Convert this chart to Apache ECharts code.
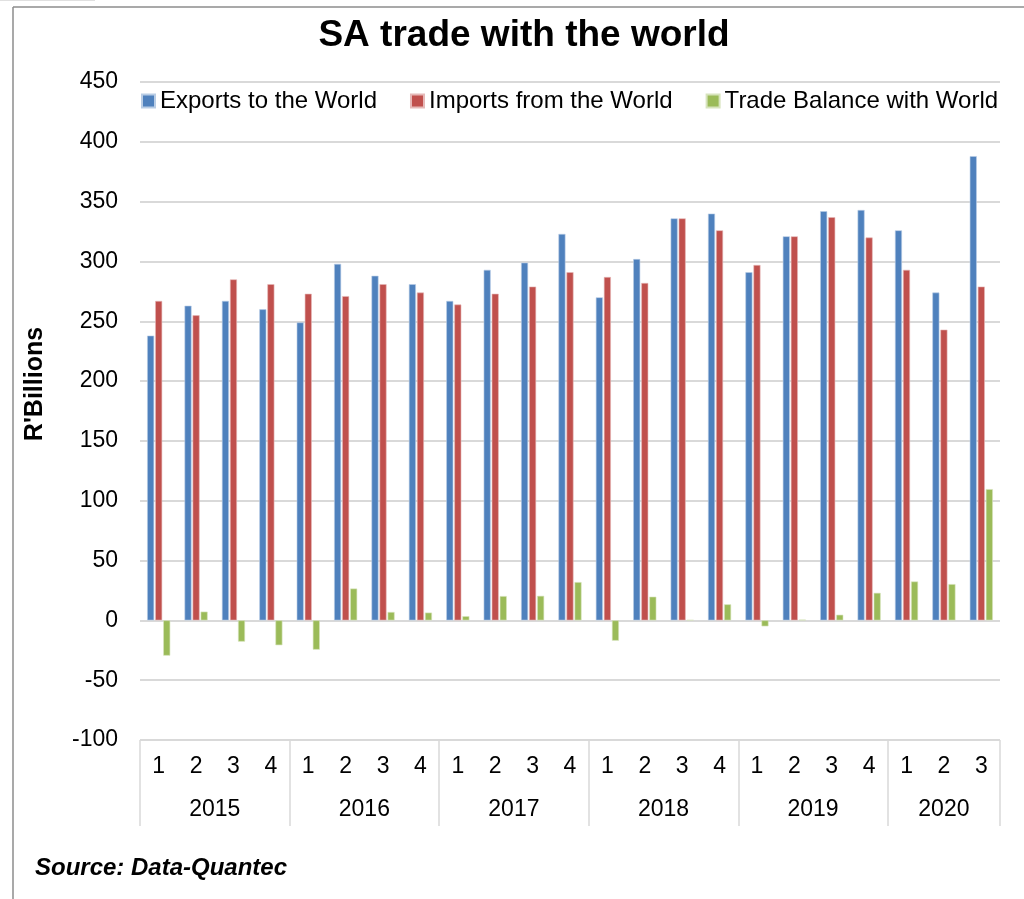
<!DOCTYPE html>
<html>
<head>
<meta charset="utf-8">
<script src="https://cdn.jsdelivr.net/npm/echarts@6/dist/echarts.min.js"></script>
<style>
html,body{margin:0;padding:0;background:#fff;}
#chart{width:1024px;height:899px;}
</style>
</head>
<body>
<div id="chart"></div>
<script>
var quarters = ['1','2','3','4','1','2','3','4','1','2','3','4','1','2','3','4','1','2','3','4','1','2','3'];
var years = ['2015','2016','2017','2018','2019','2020'];
var quartersPerYear = [4,4,4,4,4,3];
var exportsWorld = [238,263,267,260, 249,298,288,281, 267,293,299,323, 270,302,336,340, 291,321,342,343, 326,274,388];
var importsWorld = [267,255,285,281, 273,271,281,274, 264,273,279,291, 287,282,336,326, 297,321,337,320, 293,243,279];
var tradeBalance = [-29.5,7.3,-17.8,-20.8, -24.5,26.6,7,6.5, 3.5,20.3,20.5,32, -17,19.8,0.3,13.4, -5,0.6,4.7,23, 32.5,30.3,109.7];

// year axis: half-quarter slots so that year labels sit in the middle of their block
var yearSlots = [], yearBounds = {}, pos = 0;
for (var i = 0; i < quarters.length * 2 + 1; i++) yearSlots.push('');
yearBounds[0] = true;
for (var j = 0; j < years.length; j++) {
  var mid = pos * 2 + quartersPerYear[j];
  yearSlots[mid] = years[j];
  pos += quartersPerYear[j];
  yearBounds[pos * 2] = true;
}

var chart = echarts.init(document.getElementById('chart'));
var font = 'Liberation Sans, Arial, sans-serif';
chart.setOption({
  animation: false,
  textStyle: { fontFamily: font },
  legend: {
    left: 141,
    top: 89,
    padding: 0,
    itemWidth: 13,
    itemHeight: 13,
    itemGap: 33,
    icon: 'rect',
    textStyle: { fontSize: 24, color: '#000', fontFamily: font },
    data: ['Exports to the World','Imports from the World','Trade Balance with World']
  },
  grid: { left: 140, right: 24, top: 82, bottom: 159 },
  xAxis: [
    {
      type: 'category',
      data: quarters,
      position: 'bottom',
      axisLine: { show: false },
      axisTick: { show: false },
      axisLabel: { interval: 0, fontSize: 23, color: '#000', margin: 15, fontFamily: font }
    },
    {
      type: 'category',
      data: yearSlots,
      boundaryGap: false,
      position: 'bottom',
      axisLine: { show: false },
      axisTick: {
        show: true,
        length: 86,
        inside: false,
        interval: function (idx) { return !!yearBounds[idx]; },
        lineStyle: { color: '#d9d9d9', width: 1.5 }
      },
      axisLabel: {
        interval: function (idx, val) { return val !== ''; },
        fontSize: 23, color: '#000', margin: 58, fontFamily: font
      }
    }
  ],
  yAxis: {
    type: 'value',
    min: -100,
    max: 450,
    interval: 50,
    axisLine: { show: false },
    axisTick: { show: false },
    axisLabel: { fontSize: 23, color: '#000', margin: 22, fontFamily: font },
    splitLine: { lineStyle: { color: '#d9d9d9', width: 2 } }
  },
  series: [
    {
      name: 'Exports to the World', type: 'bar', data: exportsWorld,
      barWidth: 7, barGap: '15%',
      itemStyle: { color: '#4F81BD', borderColor: '#b9cde5', borderWidth: 0.6 }
    },
    {
      name: 'Imports from the World', type: 'bar', data: importsWorld,
      barWidth: 7, barGap: '15%',
      itemStyle: { color: '#C0504D', borderColor: '#e6b9b8', borderWidth: 0.6 }
    },
    {
      name: 'Trade Balance with World', type: 'bar', data: tradeBalance,
      barWidth: 7, barGap: '15%',
      itemStyle: { color: '#9BBB59', borderColor: '#d7e4bd', borderWidth: 0.6 }
    }
  ],
  graphic: [
    { type: 'line', shape: { x1: 13, y1: 7, x2: 1024, y2: 7 }, style: { stroke: '#8c8c8c', lineWidth: 1.5 } },
    { type: 'line', shape: { x1: 13, y1: 7, x2: 13, y2: 899 }, style: { stroke: '#8c8c8c', lineWidth: 1.5 } },
    { type: 'line', shape: { x1: 0, y1: 0.5, x2: 95, y2: 0.5 }, style: { stroke: '#e0e0e0', lineWidth: 1 } },
    {
      type: 'text', x: 524, y: 36,
      style: { text: 'SA trade with the world', font: 'bold 37px ' + font, fill: '#000', textAlign: 'center', textVerticalAlign: 'middle' }
    },
    {
      type: 'text', x: 35, y: 384, rotation: Math.PI / 2,
      style: { text: "R'Billions", font: 'bold 25px ' + font, fill: '#000', textAlign: 'center', textVerticalAlign: 'middle' }
    },
    {
      type: 'text', x: 35, y: 868,
      style: { text: 'Source: Data-Quantec', font: 'italic bold 24px ' + font, fill: '#000', textVerticalAlign: 'middle' }
    }
  ]
});
</script>
</body>
</html>
